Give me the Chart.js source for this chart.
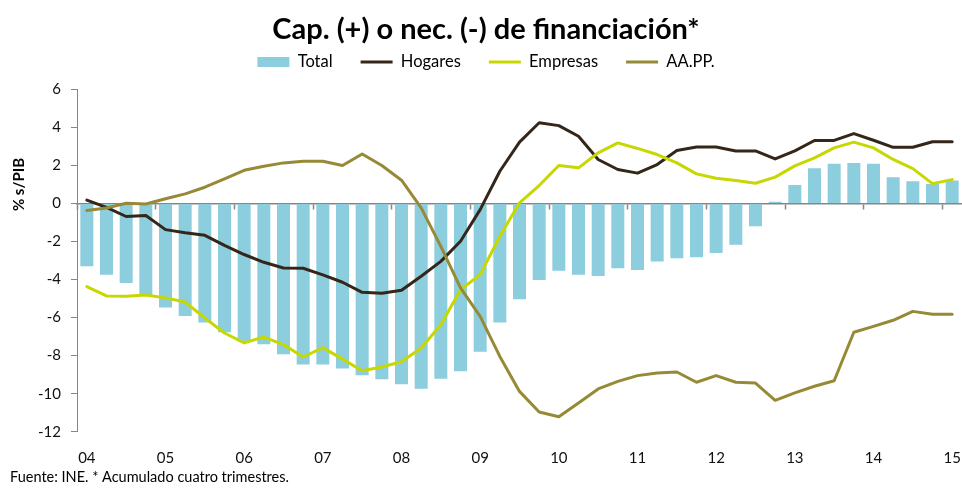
<!DOCTYPE html>
<html>
<head>
<meta charset="utf-8">
<script src="https://cdn.jsdelivr.net/npm/chart.js@4.4.1/dist/chart.umd.min.js"></script>
<style>
html,body{margin:0;padding:0;background:#ffffff;}
#wrap{width:962px;height:489px;position:relative;}
</style>
</head>
<body>
<div id="wrap"><canvas id="c" width="962" height="489"></canvas></div>
<script>
const categories = [
  '04T1','04T2','04T3','04T4','05T1','05T2','05T3','05T4','06T1','06T2','06T3','06T4',
  '07T1','07T2','07T3','07T4','08T1','08T2','08T3','08T4','09T1','09T2','09T3','09T4',
  '10T1','10T2','10T3','10T4','11T1','11T2','11T3','11T4','12T1','12T2','12T3','12T4',
  '13T1','13T2','13T3','13T4','14T1','14T2','14T3','14T4','15T1'
];
const yearLabels = ['04','05','06','07','08','09','10','11','12','13','14','15'];
const yTicks = [-12,-10,-8,-6,-4,-2,0,2,4,6];

const total = [-3.3,-3.75,-4.18,-4.85,-5.47,-5.91,-6.26,-6.77,-7.25,-7.4,
  -7.93,-8.46,-8.46,-8.67,-9.03,-9.24,-9.51,-9.74,-9.21,-8.82,
  -7.8,-6.26,-5.03,-4.02,-3.54,-3.75,-3.81,-3.4,-3.49,-3.05,
  -2.88,-2.82,-2.6,-2.16,-1.19,0.1,0.98,1.86,2.09,2.14,
  2.09,1.39,1.18,1.03,1.21];
const hogares = [0.18,-0.2,-0.68,-0.63,-1.37,-1.54,-1.67,-2.2,-2.68,-3.09,
  -3.39,-3.4,-3.75,-4.14,-4.67,-4.72,-4.56,-3.82,-3.04,-1.98,
  -0.32,1.7,3.23,4.25,4.1,3.54,2.32,1.79,1.6,2.05,
  2.79,2.98,2.98,2.77,2.77,2.35,2.77,3.32,3.32,3.68,
  3.33,2.96,2.96,3.25,3.25];
const empresas = [-4.37,-4.86,-4.88,-4.81,-4.96,-5.18,-6.02,-6.81,-7.33,-7.02,
  -7.42,-8.07,-7.58,-8.18,-8.79,-8.6,-8.32,-7.6,-6.37,-4.53,
  -3.74,-1.72,0.04,0.95,2.0,1.88,2.67,3.19,2.9,2.58,
  2.14,1.56,1.33,1.21,1.07,1.39,1.98,2.4,2.93,3.23,
  2.93,2.32,1.84,1.05,1.26];
const aapp = [-0.37,-0.23,0.02,-0.02,0.25,0.51,0.86,1.3,1.75,1.96,
  2.14,2.23,2.23,2.0,2.61,2.0,1.23,-0.23,-2.25,-4.44,
  -5.93,-8.04,-9.88,-10.96,-11.21,-10.49,-9.75,-9.35,-9.05,-8.91,
  -8.86,-9.4,-9.05,-9.4,-9.44,-10.35,-9.96,-9.61,-9.32,-6.77,
  -6.46,-6.14,-5.67,-5.82,-5.82];

const seriesNames = ['Total','Hogares','Empresas','AA.PP.'];
const titleText = 'Cap. (+) o nec. (-) de financiación*';
const footerText = 'Fuente: INE. * Acumulado cuatro trimestres.';
const yTitle = '% s/PIB';

const AXIS = '#868686';
const TXT = '#111111';
Chart.defaults.font.family = 'Lato, "Open Sans", sans-serif';
Chart.defaults.color = TXT;

// Y-axis title, drawn rotated beside the y scale (placed above the axis middle, as in the original)
const yTitlePlugin = {
  id: 'yTitlePlugin',
  afterDraw(chart) {
    const ctx = chart.ctx;
    const ys = chart.scales.y;
    ctx.save();
    ctx.font = 'bold 15px Lato, "Open Sans", sans-serif';
    ctx.fillStyle = '#000';
    ctx.textAlign = 'center';
    ctx.textBaseline = 'middle';
    ctx.translate(ys.left + 9, ys.getPixelForValue(1.0));
    ctx.rotate(-Math.PI / 2);
    ctx.fillText(yTitle, 0, 0);
    ctx.restore();
  }
};

new Chart(document.getElementById('c'), {
  type: 'bar',
  plugins: [yTitlePlugin],
  data: {
    labels: categories,
    datasets: [
      { label: seriesNames[0], data: total, xAxisID: 'x', yAxisID: 'y',
        backgroundColor: '#8CCDDE', borderWidth: 0,
        barPercentage: 0.66, categoryPercentage: 1, order: 10 },
      { type: 'line', label: seriesNames[1], data: hogares, xAxisID: 'x', yAxisID: 'y',
        borderColor: '#35261A', backgroundColor: '#35261A', borderWidth: 3,
        pointRadius: 0, tension: 0, borderJoinStyle: 'round', borderCapStyle: 'round', order: 3 },
      { type: 'line', label: seriesNames[2], data: empresas, xAxisID: 'x', yAxisID: 'y',
        borderColor: '#C6D800', backgroundColor: '#C6D800', borderWidth: 3,
        pointRadius: 0, tension: 0, borderJoinStyle: 'round', borderCapStyle: 'round', order: 2 },
      { type: 'line', label: seriesNames[3], data: aapp, xAxisID: 'x', yAxisID: 'y',
        borderColor: '#968A36', backgroundColor: '#968A36', borderWidth: 3,
        pointRadius: 0, tension: 0, borderJoinStyle: 'round', borderCapStyle: 'round', order: 1 }
    ]
  },
  options: {
    responsive: false,
    animation: false,
    devicePixelRatio: 1,
    layout: { padding: { left: 10, right: 0, top: 0, bottom: 0 } },
    plugins: {
      tooltip: { enabled: false },
      title: {
        display: true, text: titleText, color: '#000',
        font: { size: 29, weight: 'bold' },
        padding: { top: 12, bottom: -21.05 }
      },
      subtitle: {
        display: true, text: footerText, position: 'bottom', align: 'start', color: '#000',
        font: { size: 14.5 },
        padding: { top: 1, bottom: 3 }
      },
      legend: {
        display: true, position: 'top',
        labels: {
          color: '#000', font: { size: 16.5 }, padding: 28,
          usePointStyle: true, pointStyleWidth: 32, boxHeight: 10,
          sort: (a, b) => a.datasetIndex - b.datasetIndex,
          generateLabels: (chart) => {
            const items = Chart.defaults.plugins.legend.labels.generateLabels(chart);
            items.forEach(it => {
              if (it.datasetIndex === 0) { it.pointStyle = 'rect'; it.lineWidth = 0; it.strokeStyle = 'rgba(0,0,0,0)'; }
              else { it.pointStyle = 'line'; it.lineWidth = 3; }
            });
            return items;
          }
        }
      }
    },
    scales: {
      x: {
        type: 'category', position: 'bottom', offset: true,
        grid: { display: false, drawTicks: true, tickLength: 17 },
        border: { display: false },
        ticks: {
          autoSkip: false, maxRotation: 0, minRotation: 0, padding: 0,
          font: { size: 15 }, color: TXT,
          callback: (v, i) => (i % 4 === 0 ? yearLabels[i / 4] : '')
        },
        afterFit: (s) => { s.height = 35.9; }
      },
      xTop: {
        type: 'category', position: 'top', offset: true,
        grid: { display: false, drawTicks: false },
        border: { display: false },
        ticks: { display: false },
        afterFit: (s) => { s.height = 9.25; }
      },
      x0: {
        type: 'category', axis: 'x', position: { y: 0 }, offset: true,
        grid: {
          display: true, offset: true, drawOnChartArea: false, drawTicks: true,
          tickLength: 5, tickWidth: 1.5,
          tickColor: (ctx) => (ctx.index % 4 === 0 ? AXIS : 'rgba(0,0,0,0)')
        },
        border: { display: true, color: AXIS, width: 1.5 },
        ticks: { display: false, autoSkip: false }
      },
      y: {
        type: 'linear', position: 'left', min: -12, max: 6,
        afterBuildTicks: (s) => { s.ticks = yTicks.map(v => ({ value: v })); },
        grid: { display: true, drawOnChartArea: false, drawTicks: true, tickLength: 6, color: AXIS, lineWidth: 1 },
        border: { display: true, color: AXIS, width: 1 },
        ticks: { padding: 10, font: { size: 15 }, color: TXT },
        title: { display: false, text: yTitle },
        afterFit: (s) => { s.width = 67; }
      }
    }
  }
});
</script>
</body>
</html>
